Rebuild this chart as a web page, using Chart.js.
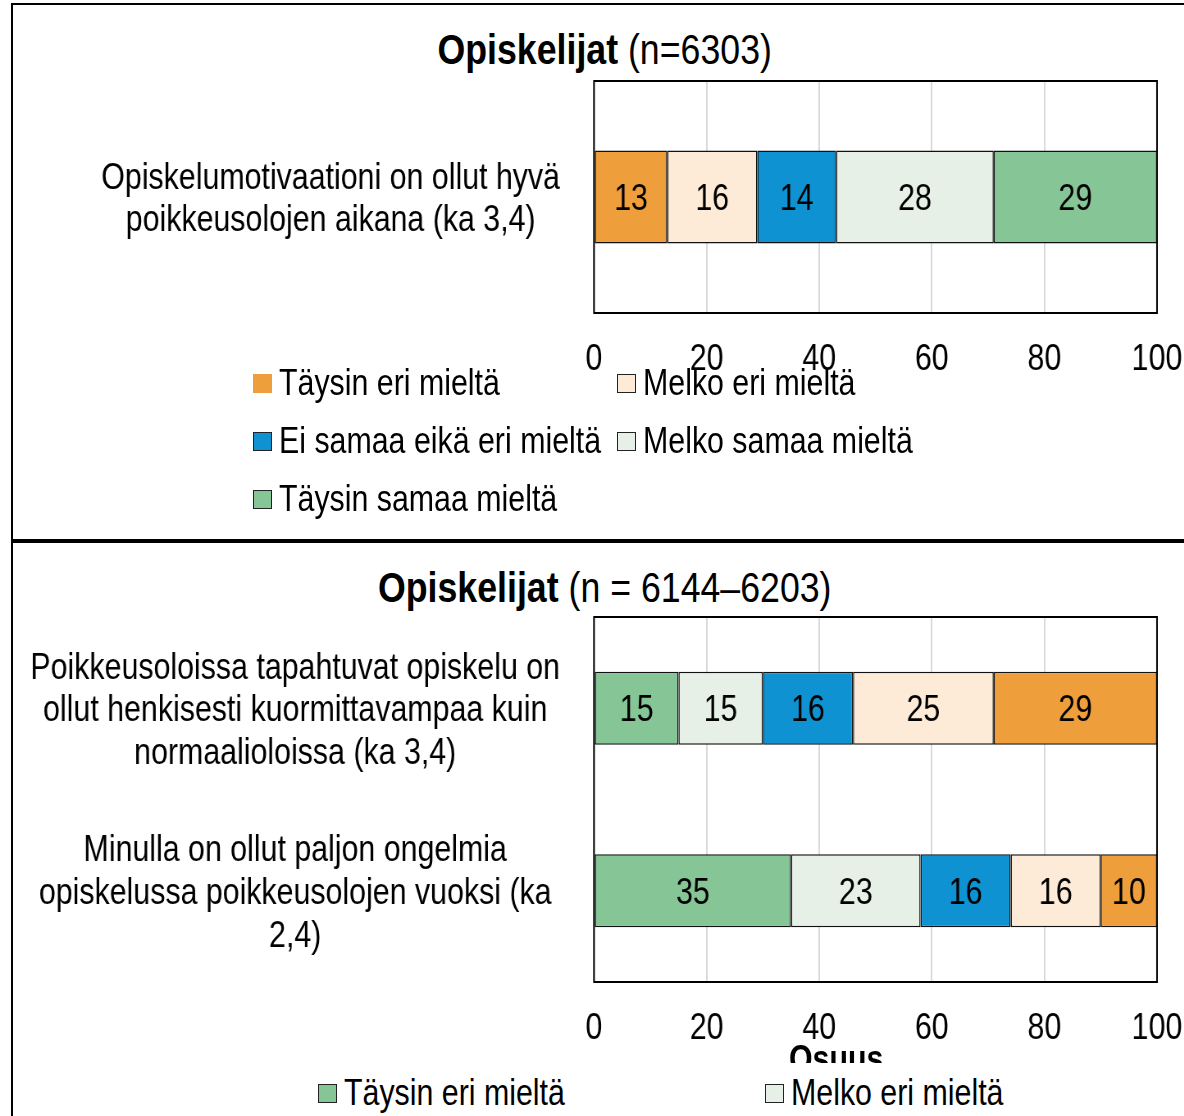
<!DOCTYPE html>
<html lang="fi">
<head>
<meta charset="utf-8">
<title>Opiskelijat</title>
<script src="https://cdn.jsdelivr.net/npm/chart.js@4.4.1/dist/chart.umd.min.js"></script>
<style>
  html, body { margin: 0; padding: 0; background: #fff; }
  body { width: 1184px; height: 1116px; overflow: hidden; position: relative;
         font-family: "Liberation Sans", Arial, sans-serif; color: #000; }
  .box { position: absolute; left: 11px; width: 1300px; border: 2px solid #000; }
  /* Arial Narrow look: Liberation Sans squeezed to 82 % width */
  .narrow { display: inline-block; transform: scaleX(0.82); transform-origin: left center; white-space: nowrap; }
  .title { position: absolute; left: 0; width: 1210px; text-align: center; font-size: 42px; line-height: 48px; }
  .title .narrow { transform: scaleX(0.85); transform-origin: center center; }
  .wrap { position: absolute; left: 0; transform: scaleX(0.82); transform-origin: left top; }
  .legend { position: absolute; font-size: 37px; line-height: 42px; }
  .legend .item { position: absolute; white-space: nowrap; display: flex; align-items: center; }
  .legend .mark { width: 17px; height: 17px; border: 1.5px solid #222; margin-right: 7px; flex: none; }
  .axis-title { position: absolute; font-size: 37px; font-weight: bold; line-height: 42px; }
</style>
</head>
<body>
<div class="box" style="top:3px;height:536px;"></div>
<div class="box" style="top:539px;height:700px;"></div>

<div class="title" style="top:26px;"><span class="narrow"><b>Opiskelijat</b> (n=6303)</span></div>
<div class="wrap" style="top:0;"><canvas id="chart-top" width="1444" height="541"></canvas></div>
<div class="legend" id="legend-top" style="left:0;top:0;"></div>

<div class="title" style="top:564px;"><span class="narrow"><b>Opiskelijat</b> (n = 6144–6203)</span></div>
<div class="wrap" style="top:541px;"><canvas id="chart-bottom" width="1444" height="575"></canvas></div>
<div class="axis-title" style="left:789px;top:1038px;"><span class="narrow">Osuus</span></div>
<div class="legend" id="legend-bottom" style="left:14px;top:1063px;width:1170px;height:200px;background:#fff;"></div>

<script>
const SQUEEZE = 0.82;
const FONT = '"Liberation Sans", Arial, sans-serif';

// top chart
const topCategories = [["Opiskelumotivaationi on ollut hyvä", "poikkeusolojen aikana (ka 3,4)"]];
const topSeries = ["Täysin eri mieltä", "Melko eri mieltä", "Ei samaa eikä eri mieltä", "Melko samaa mieltä", "Täysin samaa mieltä"];
const topValues = [[13], [16], [14], [28], [29]];
const topColors = ["#EE9E3B", "#FDEBD7", "#0E92D2", "#E6F0E7", "#86C596"];

// bottom chart
const bottomCategories = [
  ["Poikkeusoloissa tapahtuvat opiskelu on", "ollut henkisesti kuormittavampaa kuin", "normaalioloissa (ka 3,4)"],
  ["Minulla on ollut paljon ongelmia", "opiskelussa poikkeusolojen vuoksi (ka", "2,4)"],
];
const bottomSeries = ["Täysin eri mieltä", "Melko eri mieltä", "Ei samaa eikä eri mieltä", "Melko samaa mieltä", "Täysin samaa mieltä"];
const bottomValues = [[15, 35], [15, 23], [16, 16], [25, 16], [29, 10]];
const bottomColors = ["#86C596", "#E6F0E7", "#0E92D2", "#FDEBD7", "#EE9E3B"];

const xTicks = [0, 20, 40, 60, 80, 100];

Chart.defaults.font.family = FONT;
Chart.defaults.color = "#000";

// canvas is drawn wide and squeezed by CSS, so screen x = logical x * SQUEEZE
const sx = (px) => px / SQUEEZE;

const valueLabels = {
  id: "valueLabels",
  afterDatasetsDraw(chart) {
    const ctx = chart.ctx;
    ctx.save();
    ctx.font = `37px ${FONT}`;
    ctx.fillStyle = "#000";
    ctx.textAlign = "center";
    ctx.textBaseline = "middle";
    chart.data.datasets.forEach((ds, i) => {
      chart.getDatasetMeta(i).data.forEach((bar, j) => {
        const { x, y, base } = bar.getProps(["x", "y", "base"], true);
        ctx.fillText(String(ds.data[j]), (x + base) / 2, y + 3);
      });
    });
    ctx.restore();
  },
};

const frame = {
  id: "frame",
  afterDatasetsDraw(chart) {
    const { left, top, width, height } = chart.chartArea;
    const ctx = chart.ctx;
    ctx.save();
    ctx.strokeStyle = "#000";
    ctx.lineWidth = 2;
    ctx.strokeRect(left, top, width, height);
    ctx.restore();
  },
};

function makeChart(id, categories, series, values, colors, pad) {
  return new Chart(document.getElementById(id), {
    type: "bar",
    data: {
      labels: categories,
      datasets: series.map((name, i) => ({
        label: name,
        data: values[i],
        backgroundColor: colors[i],
        borderColor: "#111",
        borderWidth: 1.5,
        borderSkipped: false,
        barPercentage: 0.4,
        categoryPercentage: 1,
      })),
    },
    options: {
      indexAxis: "y",
      responsive: false,
      animation: false,
      layout: { padding: pad },
      plugins: { legend: { display: false }, title: { display: false }, tooltip: { enabled: false } },
      scales: {
        x: {
          stacked: true,
          min: 0,
          max: 100,
          afterBuildTicks: (scale) => { scale.ticks = xTicks.map((v) => ({ value: v })); },
          afterFit: (scale) => { scale.height = 80; scale.paddingLeft = 0; scale.paddingRight = 0; },
          grid: { color: "#d9d9d9", lineWidth: 2, drawTicks: false },
          border: { display: false },
          ticks: { font: { size: 37, lineHeight: 1.2 }, color: "#000", padding: 25, maxRotation: 0, autoSkip: false },
        },
        y: {
          stacked: true,
          afterFit: (scale) => { scale.width = sx(594); scale.paddingTop = 0; scale.paddingBottom = 0; },
          grid: { display: false, drawTicks: false },
          border: { display: false },
          ticks: { font: { size: 37, lineHeight: 1.15 }, color: "#000", padding: sx(34), crossAlign: "center", labelOffset: 3 },
        },
      },
    },
    plugins: [frame, valueLabels],
  });
}

const rightPad = 1444 - sx(1157);
makeChart("chart-top", topCategories, topSeries, topValues, topColors, { left: 0, right: rightPad, top: 81, bottom: 148 });
makeChart("chart-bottom", bottomCategories, bottomSeries, bottomValues, bottomColors, { left: 0, right: rightPad, top: 76, bottom: 54 });

function buildLegend(el, series, colors, cols, rowTop, borders) {
  series.forEach((name, i) => {
    const item = document.createElement("div");
    item.className = "item";
    item.style.left = cols[i % 2] + "px";
    item.style.top = rowTop + Math.floor(i / 2) * 58 + "px";
    const mark = document.createElement("span");
    mark.className = "mark";
    mark.style.background = colors[i];
    if (!borders[i]) mark.style.borderColor = colors[i];
    const text = document.createElement("span");
    text.className = "narrow";
    text.textContent = name;
    item.append(mark, text);
    el.appendChild(item);
  });
}

buildLegend(document.getElementById("legend-top"), topSeries, topColors, [253, 617], 362, [false, true, true, true, true]);
buildLegend(document.getElementById("legend-bottom"), bottomSeries, bottomColors, [304, 751], 9, [true, true, true, true, true]);
</script>
</body>
</html>
